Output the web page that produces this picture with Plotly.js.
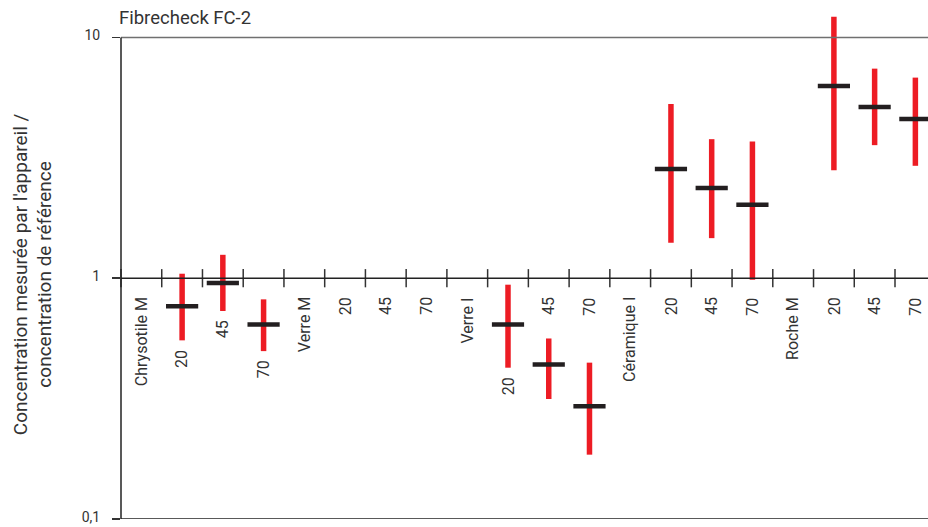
<!DOCTYPE html>
<html>
<head>
<meta charset="utf-8">
<script src="https://cdn.plot.ly/plotly-3.0.1.min.js"></script>
<style>html,body{margin:0;padding:0;background:#fff;}#chart{width:928px;height:527px;}</style>
</head>
<body>
<div id="chart"></div>
<script>
// Data
const categories = ["Chrysotile M","20","45","70","Verre M","20","45","70","Verre I","20","45","70","Céramique I","20","45","70","Roche M","20","45","70"];
const medians = [null,0.764,0.955,0.642,null,null,null,null,null,0.642,0.438,0.294,null,2.84,2.37,2.02,null,6.29,5.14,4.58];
const highs   = [null,1.044,1.251,0.817,null,null,null,null,null,0.940,0.562,0.446,null,5.29,3.78,3.70,null,12.18,7.42,6.81];
const lows    = [null,0.552,0.731,0.498,null,null,null,null,null,0.425,0.315,0.185,null,1.403,1.467,0.986,null,2.81,3.57,2.93];
const yTickVals = [0.1, 1, 10];
const yTickText = ["0,1", "1", "10"];
const chartTitle = "Fibrecheck FC-2";
const yTitle = "Concentration mesurée par l'appareil /<br>concentration de référence";

const xs = categories.map((c, i) => i);
const errPlus = medians.map((m, i) => m == null ? null : highs[i] - m);
const errMinus = medians.map((m, i) => m == null ? null : m - lows[i]);

const FONT = "Roboto, 'DejaVu Sans', sans-serif";
const TXT = "#333333";

const rangeBars = {
  type: "scatter", mode: "markers", x: xs, y: medians,
  marker: {size: 1, opacity: 0},
  error_y: {type: "data", symmetric: false, array: errPlus, arrayminus: errMinus,
            color: "#ed1c24", thickness: 5.5, width: 0},
  hoverinfo: "skip", showlegend: false, cliponaxis: false
};
const medianMarks = {
  type: "scatter", mode: "markers", x: xs, y: medians,
  marker: {symbol: "line-ew", size: 23, line: {width: 4.5, color: "#231f20"}, color: "#231f20"},
  showlegend: false, cliponaxis: false
};
// category separator ticks on the y=1 baseline
const sepX = categories.map((c, i) => i - 0.5);
const sepTicks = {
  type: "scatter", mode: "markers", x: sepX, y: sepX.map(() => 1),
  marker: {symbol: "line-ns", size: 13, line: {width: 1.5, color: "#333"}},
  hoverinfo: "skip", showlegend: false, cliponaxis: false
};

// category labels, pushed below the range bar when it reaches into the label zone
const defaultTop = Math.pow(10, -0.071);
const annotations = categories.map((c, i) => {
  let y = defaultTop;
  if (lows[i] != null && highs[i] > 0.6) {
    y = Math.min(defaultTop, lows[i] * Math.pow(10, -0.031));
  }
  return {x: i, y: Math.log10(y), xref: "x", yref: "y", text: c, showarrow: false,
          textangle: -90, xanchor: "center", yanchor: "top",
          font: {family: FONT, size: 16, color: TXT}};
});
// y-axis title, centred on the 0.1–10 span
annotations.push({x: 0, xref: "paper", xanchor: "center", xshift: -88,
                  y: 0, yref: "y", yanchor: "middle", yshift: 4,
                  text: yTitle, showarrow: false, textangle: -90, align: "center",
                  font: {family: FONT, size: 19, color: TXT}});

const shapes = [
  {type: "line", xref: "paper", yref: "y", x0: 0, x1: 1, y0: 10, y1: 10, line: {color: "#707070", width: 1.6}},
  {type: "line", xref: "paper", yref: "y", x0: 0, x1: 1, y0: 1, y1: 1, line: {color: "#222", width: 1.5}},
  {type: "line", xref: "paper", yref: "y", x0: 0, x1: 1, y0: 0.1, y1: 0.1, line: {color: "#222", width: 1.5}},
  {type: "line", xref: "paper", yref: "y", x0: 0, x1: 0, y0: 0.1, y1: 10, line: {color: "#222", width: 1.5}}
];

const layout = {
  width: 928, height: 527,
  margin: {l: 121, r: 0, t: 9.5, b: 7.5, pad: 0},
  paper_bgcolor: "#fff", plot_bgcolor: "#fff",
  font: {family: FONT, color: TXT},
  title: {text: chartTitle, x: 119/928, xref: "container", xanchor: "left",
          y: 1 - 18/527, yref: "container", yanchor: "middle",
          font: {family: FONT, size: 18.5, color: TXT}},
  xaxis: {range: [-0.5, 19.31], showticklabels: false, ticks: "", showgrid: false,
          zeroline: false, showline: false, fixedrange: true},
  yaxis: {type: "log", range: [-1, Math.log10(13)], tickvals: yTickVals, ticktext: yTickText,
          ticks: "outside", ticklen: 8, tickwidth: 1.5, tickcolor: "#333",
          showgrid: false, zeroline: false, showline: false, ticklabelstandoff: 9,
          ticklabelshift: -2, ticklabeloverflow: "allow",
          tickfont: {family: FONT, size: 14, color: TXT},
          automargin: false},
  shapes: shapes,
  annotations: annotations
};

Plotly.newPlot("chart", [rangeBars, sepTicks, medianMarks], layout, {displayModeBar: false, staticPlot: true});
</script>
</body>
</html>
